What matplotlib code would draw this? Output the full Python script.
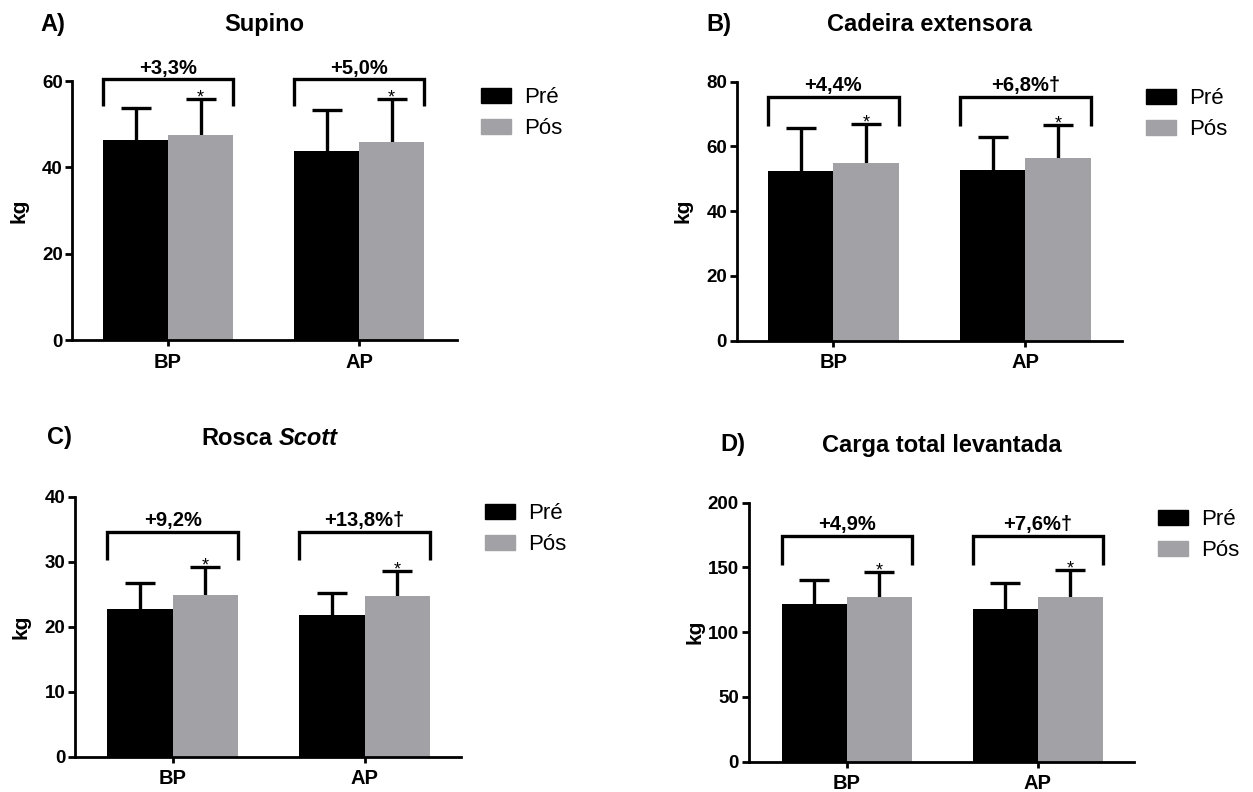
import numpy as np
import matplotlib
matplotlib.use('Agg')
import matplotlib.pyplot as plt
from matplotlib.patches import Patch

plt.rcParams['font.family'] = ['Liberation Sans', 'DejaVu Sans']

# dados
grupos = ['BP', 'AP']
series = ['Pré', 'Pós']

supino_pre = [46.3, 43.9]
supino_pre_dp = [7.5, 9.4]
supino_pos = [47.6, 45.9]
supino_pos_dp = [8.2, 9.9]
supino_pct = ['+3,3%', '+5,0%']

cadeira_pre = [52.5, 52.7]
cadeira_pre_dp = [13.1, 10.3]
cadeira_pos = [54.8, 56.3]
cadeira_pos_dp = [12.1, 10.2]
cadeira_pct = ['+4,4%', '+6,8%†']

rosca_pre = [22.7, 21.8]
rosca_pre_dp = [4.0, 3.4]
rosca_pos = [24.9, 24.7]
rosca_pos_dp = [4.3, 3.9]
rosca_pct = ['+9,2%', '+13,8%†']

carga_pre = [121.8, 117.9]
carga_pre_dp = [18.5, 20.3]
carga_pos = [127.4, 127.4]
carga_pos_dp = [19.3, 20.6]
carga_pct = ['+4,9%', '+7,6%†']

cor_pre = 'black'
cor_pos = '#a2a1a6'
larg = 0.34


def barra_erro(ax, x, y, dp):
    # só a parte de cima do desvio, sem a tampa de baixo
    _, caps, _ = ax.errorbar(x, y, yerr=[np.zeros(len(y)), dp], fmt='none',
                             ecolor='black', elinewidth=2.4, capsize=11,
                             capthick=2.4, zorder=1)
    caps[0].set_visible(False)


def painel(ax, pre, pre_dp, pos, pos_dp, pct, yticks, chave, xlim):
    x = np.arange(len(grupos))
    ax.bar(x - larg / 2, pre, larg, color=cor_pre, zorder=2)
    ax.bar(x + larg / 2, pos, larg, color=cor_pos, zorder=2)
    barra_erro(ax, x - larg / 2, pre, pre_dp)
    barra_erro(ax, x + larg / 2, pos, pos_dp)
    topo, perna = chave
    for i in range(len(grupos)):
        xs = [x[i] - larg, x[i] - larg, x[i] + larg, x[i] + larg]
        ys = [perna, topo, topo, perna]
        ax.plot(xs, ys, color='black', lw=2.4, clip_on=False,
                solid_joinstyle='miter', solid_capstyle='butt')
        ax.annotate(pct[i], (x[i], topo), xytext=(0, 4), textcoords='offset points',
                    ha='center', va='baseline', fontsize=14.5, fontweight='bold',
                    annotation_clip=False)
        ax.annotate('*', (x[i] + larg / 2, pos[i] + pos_dp[i]), xytext=(0, -2.5),
                    textcoords='offset points', ha='center', va='baseline',
                    fontsize=13, annotation_clip=False)
    ax.set_ylim(yticks[0], yticks[-1])
    ax.set_yticks(yticks)
    ax.set_xlim(*xlim)
    ax.set_xticks(x)
    ax.set_xticklabels(grupos)
    for s in ['top', 'right']:
        ax.spines[s].set_visible(False)
    for s in ['left', 'bottom']:
        ax.spines[s].set_linewidth(2)
    ax.tick_params(axis='y', length=5, width=2, labelsize=13.5, pad=2)
    ax.tick_params(axis='x', length=4, width=2, labelsize=14.5, pad=5)
    for t in ax.get_xticklabels() + ax.get_yticklabels():
        t.set_fontweight('bold')
    ax.set_ylabel('kg', fontsize=15, fontweight='bold')
    ax.yaxis.set_label_coords(-0.115, 0.5)
    handles = [Patch(facecolor=cor_pre, edgecolor=cor_pre),
               Patch(facecolor=cor_pos, edgecolor=cor_pos)]
    ax.legend(handles, series, loc='center left', bbox_to_anchor=(1.062, 0.875),
              frameon=False, fontsize=16, handlelength=1.35, handleheight=0.68,
              handletextpad=0.6, labelspacing=0.45, borderpad=0, borderaxespad=0)


fig = plt.figure(figsize=(12.53, 7.92), dpi=100)
axA = fig.add_axes([0.0578, 0.5707, 0.3067, 0.3270])
axB = fig.add_axes([0.5880, 0.5698, 0.3077, 0.3270])
axC = fig.add_axes([0.0599, 0.0446, 0.3077, 0.3283])
axD = fig.add_axes([0.5974, 0.0383, 0.3077, 0.3270])

painel(axA, supino_pre, supino_pre_dp, supino_pos, supino_pos_dp, supino_pct,
       [0, 20, 40, 60], (60.4, 54.2), (-0.50, 1.51))
painel(axB, cadeira_pre, cadeira_pre_dp, cadeira_pos, cadeira_pos_dp, cadeira_pct,
       [0, 20, 40, 60, 80], (75.4, 66.3), (-0.503, 1.505))
painel(axC, rosca_pre, rosca_pre_dp, rosca_pos, rosca_pos_dp, rosca_pct,
       [0, 10, 20, 30, 40], (34.6, 30.3), (-0.509, 1.50))
painel(axD, carga_pre, carga_pre_dp, carga_pos, carga_pos_dp, carga_pct,
       [0, 50, 100, 150, 200], (174.3, 151.9), (-0.513, 1.504))

# títulos
tit = dict(fontsize=17, fontweight='bold', va='center')
axA.text(0.5, 1 + 57 / 259, 'Supino', transform=axA.transAxes, ha='center', **tit)
axB.text(0.5, 1 + 57 / 259, 'Cadeira extensora', transform=axB.transAxes, ha='center', **tit)
axD.text(0.5, 1 + 57 / 259, 'Carga total levantada', transform=axD.transAxes, ha='center', **tit)
rosca = axC.text(0.511, 1 + 58 / 260, 'Rosca', transform=axC.transAxes, ha='right', **tit)
axC.annotate('Scott', xy=(1, 0), xycoords=rosca, xytext=(5, 0), textcoords='offset points',
             ha='left', va='bottom', fontsize=17, fontweight='bold', fontstyle='italic')

# letras dos painéis
let = dict(fontsize=17, fontweight='bold', ha='center', va='center')
fig.text(52.5 / 1253, 1 - 24 / 792, 'A)', **let)
fig.text(719 / 1253, 1 - 25 / 792, 'B)', **let)
fig.text(59 / 1253, 1 - 438 / 792, 'C)', **let)
fig.text(733 / 1253, 1 - 445 / 792, 'D)', **let)

fig.savefig('out.png', dpi=100)
